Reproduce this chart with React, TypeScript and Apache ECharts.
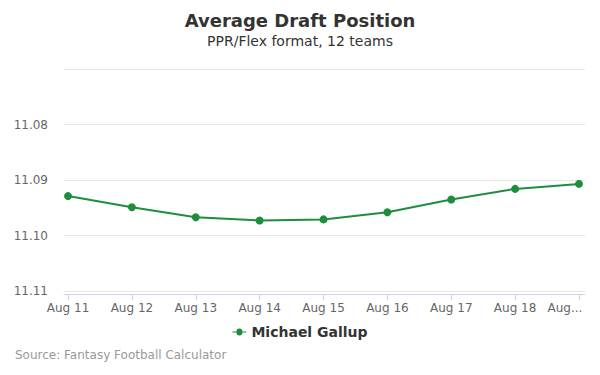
import React, { useEffect, useRef } from "react";
import * as echarts from "echarts";

const categories = ["Aug 11", "Aug 12", "Aug 13", "Aug 14", "Aug 15", "Aug 16", "Aug 17", "Aug 18", "Aug 19"];
const adpValues = [11.0929, 11.0949, 11.0967, 11.0973, 11.0971, 11.0958, 11.0935, 11.0916, 11.0907];
const yTicks = [11.07, 11.08, 11.09, 11.1, 11.11];
const seriesName = "Michael Gallup";

const FONT = "DejaVu Sans, Verdana, sans-serif";
const GREEN = "#1e8e3e";

export default function App() {
  const ref = useRef<HTMLDivElement>(null);
  useEffect(() => {
    if (!ref.current) return;
    const chart = echarts.init(ref.current, undefined, { renderer: "svg" });
    const idx = categories.map((_, i) => i);
    chart.setOption({
      animation: false,
      backgroundColor: "#ffffff",
      textStyle: { fontFamily: FONT },
      title: {
        text: "Average Draft Position",
        subtext: "PPR/Flex format, 12 teams",
        left: "center",
        top: 6,
        itemGap: 5,
        textStyle: { fontFamily: FONT, fontSize: 18, fontWeight: "bold", color: "#333333" },
        subtextStyle: { fontFamily: FONT, fontSize: 14, color: "#333333" },
      },
      legend: {
        bottom: 31,
        left: "center",
        itemWidth: 14,
        itemHeight: 8,
        itemGap: 6,
        textStyle: { fontFamily: FONT, fontSize: 14, fontWeight: "bold", color: "#333333" },
        data: [{ name: seriesName, icon: "path://M0,3.5 L4,3.5 A3,3 0 1 1 10,3.5 L14,3.5 L14,4.5 L10,4.5 A3,3 0 1 1 4,4.5 L0,4.5 Z" }],
      },
      graphic: [
        {
          type: "text",
          left: 15,
          top: 349,
          style: { text: "Source: Fantasy Football Calculator", fontFamily: FONT, fontSize: 12, fill: "#999999" },
        },
      ],
      grid: { left: 64, right: 15, top: 69, bottom: 84 },
      xAxis: {
        type: "value",
        min: -0.063,
        max: 8.094,
        offset: 3,
        splitLine: { show: false },
        axisLine: { show: true, lineStyle: { color: "#ccd6eb" } },
        axisTick: { show: true, customValues: idx, length: 6, lineStyle: { color: "#ccd6eb" } },
        axisLabel: {
          customValues: idx,
          color: "#666666",
          fontSize: 12,
          fontFamily: FONT,
          margin: 8,
          rich: {
            e: { color: "#666666", fontSize: 12, fontFamily: FONT, padding: [0, 28, 0, 0] },
          },
          formatter: (v: number) => {
            const i = Math.round(v);
            return i === categories.length - 1 ? "{e|Aug...}" : categories[i];
          },
        },
      },
      yAxis: {
        type: "value",
        inverse: true,
        min: yTicks[0],
        max: yTicks[yTicks.length - 1],
        interval: 0.01,
        axisLine: { show: false },
        axisTick: { show: false },
        splitLine: { lineStyle: { color: "#e6e6e6" } },
        axisLabel: {
          color: "#666666",
          fontSize: 12,
          fontFamily: FONT,
          margin: 16,
          formatter: (v: number) => (Math.abs(v - yTicks[0]) < 1e-6 ? "" : v.toFixed(2)),
        },
      },
      series: [
        {
          name: seriesName,
          type: "line",
          data: adpValues.map((v, i) => [i, v]),
          lineStyle: { color: GREEN, width: 2 },
          itemStyle: { color: GREEN },
          symbol: "circle",
          symbolSize: 8,
        },
      ],
    });
    return () => chart.dispose();
  }, []);
  return <div ref={ref} style={{ width: 600, height: 375, position: "absolute", left: 0, top: 0 }} />;
}
